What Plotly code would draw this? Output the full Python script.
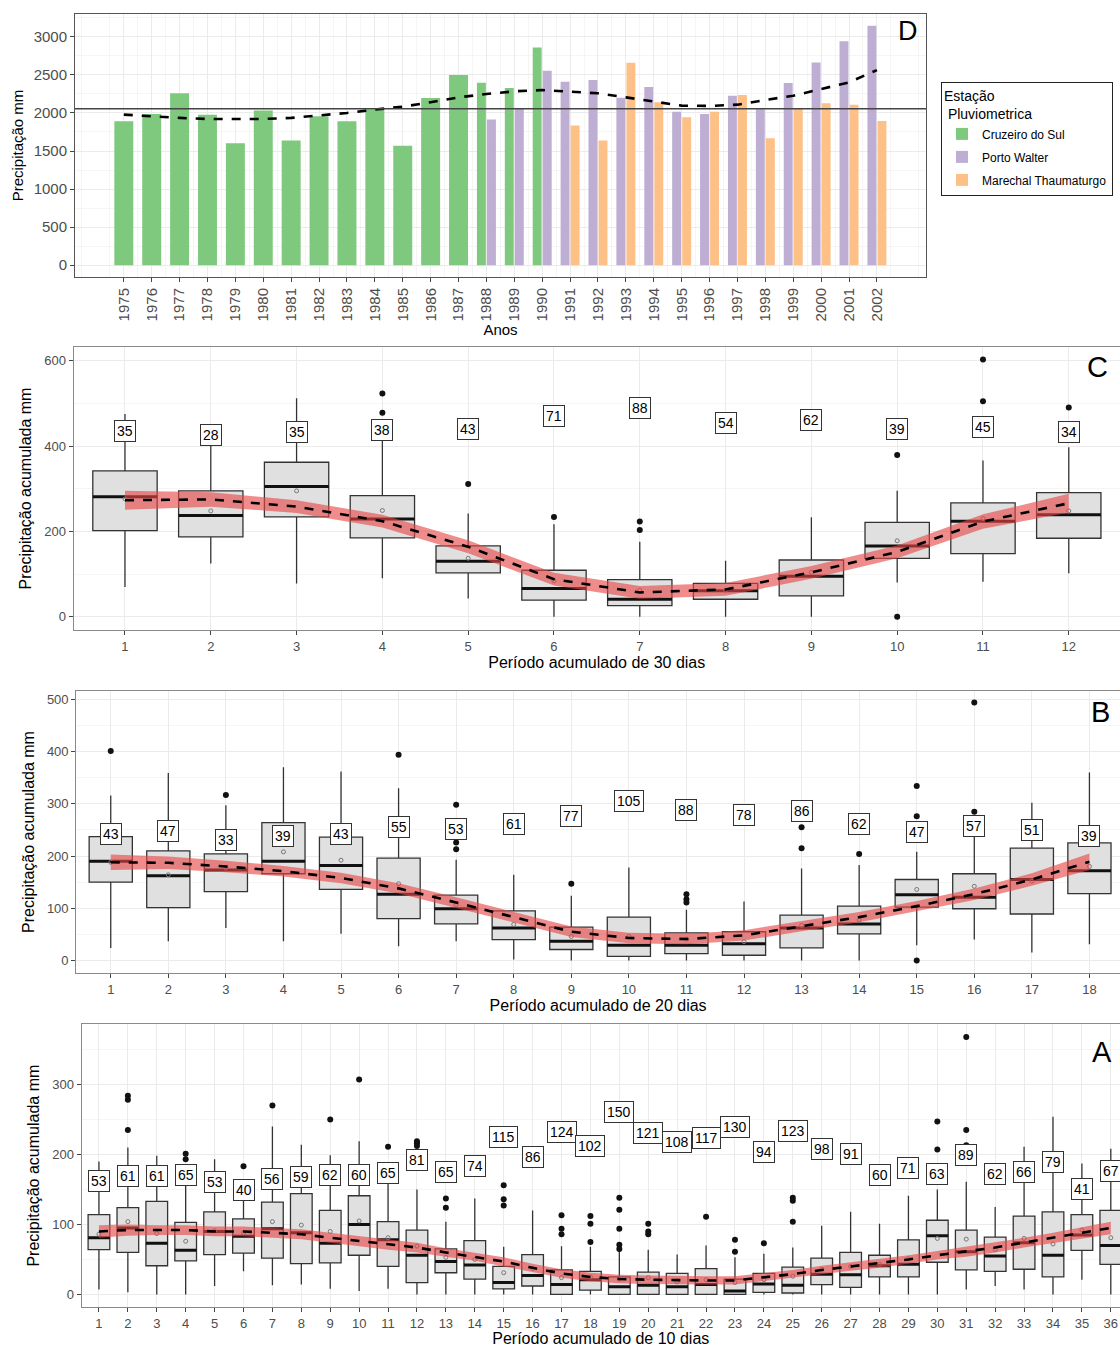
import plotly.graph_objects as go

FONT = "Liberation Sans, Arial, Helvetica, sans-serif"
W, H = 1120, 1347

# ---------------- Panel D : annual totals ----------------
years = list(range(1975, 2003))
station_names = ["Cruzeiro do Sul", "Porto Walter", "Marechal Thaumaturgo"]
station_colors = ["#7FC97F", "#BEAED4", "#FDC086"]
cz_years = list(range(1975, 1991))
cz_vals = [1891, 1987, 2258, 1978, 1603, 2031, 1638, 1956, 1891, 2045, 1568, 2197, 2498, 2397, 2328, 2860]
pw_years = list(range(1988, 2003))
pw_vals = [1915, 2053, 2555, 2410, 2432, 2201, 2341, 2017, 1987, 2227, 2048, 2393, 2664, 2943, 3144]
mt_years = list(range(1991, 2003))
mt_vals = [1834, 1638, 2660, 2140, 1943, 2017, 2236, 1668, 2053, 2127, 2109, 1895]
trend_d = [1978, 1952, 1935, 1921, 1917, 1921, 1935, 1965, 2000, 2044, 2083, 2140, 2205, 2249,
           2284, 2301, 2284, 2258, 2205, 2148, 2096, 2092, 2109, 2170, 2227, 2314, 2402, 2563]
mean_annual = 2055

# ---------------- Panel C : 30-day periods ----------------
c_cat = list(range(1, 13))
c_q1 = [202, 187, 234, 185, 103, 39, 26, 41, 49, 137, 148, 184]
c_med = [281, 237, 305, 229, 130, 66, 41, 61, 95, 166, 224, 239]
c_q3 = [342, 295, 362, 284, 166, 109, 87, 78, 133, 221, 267, 291]
c_lo = [70, 125, 78, 90, 43, 0, 0, 0, 0, 80, 82, 102]
c_hi = [475, 420, 512, 430, 242, 217, 176, 131, 233, 295, 366, 397]
c_mean = [276, 248, 295, 249, 137, 84, 62, 62, 104, 178, 230, 248]
c_n = [35, 28, 35, 38, 43, 71, 88, 54, 62, 39, 45, 34]
c_label_y = [436, 426, 434, 437, 441, 470, 488, 453, 461, 439, 444, 434]
c_trend = [273, 275, 258, 224, 164, 88, 57, 64, 104, 152, 223, 266]
c_se = [22, 17, 15, 15, 15, 15, 15, 15, 15, 15, 17, 22]
c_out_x = [4, 4, 5, 6, 7, 7, 10, 10, 11, 11, 12]
c_out_y = [523, 478, 311, 234, 223, 203, 379, 0, 603, 505, 490]

# ---------------- Panel B : 20-day periods ----------------
b_cat = list(range(1, 19))
b_q1 = [150, 101, 132, 166, 136, 80, 70, 40, 21, 8, 13, 10, 24, 51, 102, 99, 89, 128]
b_med = [190, 162, 173, 190, 182, 127, 99, 62, 37, 29, 29, 32, 62, 70, 126, 121, 155, 172]
b_q3 = [237, 210, 204, 264, 236, 196, 125, 95, 64, 83, 53, 55, 87, 104, 155, 166, 215, 225]
b_lo = [24, 37, 62, 37, 51, 27, 37, 2, 0, 0, 0, 0, 0, 0, 29, 40, 15, 31]
b_hi = [316, 359, 297, 370, 362, 330, 193, 164, 124, 178, 97, 113, 176, 183, 208, 262, 302, 360]
b_mean = [188, 164, 177, 208, 192, 147, 107, 69, 46, 46, 41, 36, 67, 78, 136, 142, 152, 180]
b_n = [43, 47, 33, 39, 43, 55, 53, 61, 77, 105, 88, 78, 86, 62, 47, 57, 51, 39]
b_label_y = [243, 247, 231, 239, 243, 255, 252, 262, 277, 306, 289, 278, 287, 262, 246, 257, 250, 239]
b_trend = [188, 187, 180, 171, 158, 138, 111, 83, 55, 43, 41, 48, 66, 83, 104, 127, 155, 189]
b_se = [15, 12, 11, 10, 10, 10, 10, 10, 10, 10, 10, 10, 10, 10, 10, 11, 12, 16]
b_out_x = [1, 3, 6, 7, 7, 7, 9, 11, 11, 11, 13, 13, 14, 15, 15, 15, 16, 16]
b_out_y = [401, 317, 394, 298, 226, 213, 147, 127, 117, 111, 255, 215, 204, 334, 276, 0, 285, 494]

# ---------------- Panel A : 10-day periods ----------------
a_cat = list(range(1, 37))
a_q1 = [64, 60, 41, 48, 57, 59, 52, 44, 45, 56, 40, 17, 31, 22, 8, 12, 0, 6, 0, 0, 0, 0, 0, 3,
        2, 14, 10, 25, 25, 46, 35, 33, 36, 25, 63, 43]
a_med = [81, 95, 73, 63, 90, 83, 94, 88, 73, 100, 78, 56, 47, 42, 17, 27, 14, 21, 11, 13, 11, 14, 5, 15,
         13, 29, 28, 41, 43, 84, 61, 55, 74, 56, 85, 70]
a_q3 = [114, 124, 133, 103, 118, 108, 132, 144, 120, 141, 104, 92, 65, 77, 40, 57, 35, 33, 25, 32, 30, 37, 22, 30,
        39, 52, 60, 56, 78, 106, 92, 82, 112, 118, 114, 120]
a_lo = [7, 3, 0, 0, 12, 33, 13, 14, 8, 5, 8, 0, 0, 0, 0, 0, 0, 0, 0, 0, 0, 0, 0, 0,
        0, 0, 0, 0, 0, 0, 7, 12, 7, 0, 21, 0]
a_hi = [190, 210, 198, 170, 193, 138, 240, 214, 199, 219, 160, 150, 104, 137, 68, 120, 69, 68, 64, 64, 57, 70, 53, 58,
        67, 98, 118, 101, 141, 150, 161, 125, 211, 254, 187, 208]
a_mean = [86, 104, 87, 76, 91, 88, 104, 99, 90, 105, 81, 69, 53, 50, 31, 37, 24, 25, 22, 24, 18, 21, 17, 21,
          26, 36, 40, 43, 51, 80, 79, 64, 80, 72, 92, 81]
a_n = [53, 61, 61, 65, 53, 40, 56, 59, 62, 60, 65, 81, 65, 74, 115, 86, 124, 102, 150, 121, 108, 117, 130, 94,
       123, 98, 91, 60, 71, 63, 89, 62, 66, 79, 41, 67]
a_label_y = [162, 169, 169, 171, 161, 149, 165, 168, 171, 170, 173, 192, 175, 183, 225, 196, 232, 212, 260, 231, 218, 224, 239, 203,
             234, 208, 201, 170, 180, 172, 199, 172, 175, 189, 150, 177]
a_trend = [90, 92, 92, 92, 90, 90, 88, 86, 81, 76, 71, 67, 60, 54, 47, 38, 30, 25, 22, 21, 20, 20, 20, 24,
           29, 35, 40, 44, 50, 56, 61, 67, 74, 81, 88, 95]
a_se = [9, 8, 7, 7, 7, 7, 7, 7, 7, 7, 7, 7, 6, 6, 6, 6, 6, 6, 6, 6, 6, 6, 6, 6,
        6, 6, 6, 6, 6, 6, 7, 7, 7, 7, 8, 9]
a_out_x = [2, 2, 2, 4, 4, 6, 7, 9, 10, 11, 12, 12, 12, 13, 13, 15, 15, 15, 17, 17, 17, 18, 18, 18,
           19, 19, 19, 19, 19, 20, 20, 20, 22, 23, 23, 24, 25, 25, 25, 30, 30, 31, 31, 31]
a_out_y = [284, 278, 235, 201, 193, 183, 270, 250, 307, 211, 216, 212, 219, 137, 124, 156, 136, 127, 113, 94, 86, 112, 101, 75,
           138, 121, 94, 71, 65, 101, 90, 86, 111, 78, 61, 73, 138, 134, 104, 247, 207, 368, 235, 213]

fig = go.Figure()

# ---- Panel D bars (dodged) ----
series = [(cz_years, cz_vals), (pw_years, pw_vals), (mt_years, mt_vals)]
present = {y: [i for i, (ys, _) in enumerate(series) if y in ys] for y in years}
DODGE, GAP = 0.72, 0.04
for i, (ys, vs) in enumerate(series):
    offs, wids = [], []
    for y in ys:
        st = present[y]
        n = len(st)
        k = st.index(i)
        slot = DODGE / n
        offs.append(-DODGE / 2 + k * slot + GAP / 2)
        wids.append(slot - GAP)
    fig.add_trace(go.Bar(x=ys, y=vs, offset=offs, width=wids, name=station_names[i],
                         legendgroup=station_names[i],
                         marker=dict(color=station_colors[i], line=dict(width=0)),
                         xaxis="x", yaxis="y", hoverinfo="skip"))
fig.add_trace(go.Scatter(x=years, y=trend_d, mode="lines", showlegend=False,
                         line=dict(color="black", width=2.6, dash="dash"), xaxis="x", yaxis="y"))
fig.add_shape(type="line", xref="x domain", x0=0, x1=1, yref="y", y0=mean_annual, y1=mean_annual,
              line=dict(color="#444444", width=1.3))


def box_panel(ax, cats, q1, med, q3, lo, hi, mean, n, label_y, trend, se, out_x, out_y, bw=0.75):
    xa, ya = "x" + ax, "y" + ax
    fig.add_trace(go.Box(x=cats, q1=q1, median=med, q3=q3, lowerfence=lo, upperfence=hi,
                         orientation="v", width=bw, whiskerwidth=0, fillcolor="#E0E0E0",
                         line=dict(color="#333333", width=1.3), boxpoints=False,
                         xaxis=xa, yaxis=ya, showlegend=False, hoverinfo="skip"))
    mx, my = [], []
    for c, m in zip(cats, med):
        mx += [c - bw / 2, c + bw / 2, None]
        my += [m, m, None]
    fig.add_trace(go.Scatter(x=mx, y=my, mode="lines", line=dict(color="#111111", width=3),
                             xaxis=xa, yaxis=ya, showlegend=False))
    fig.add_trace(go.Scatter(x=cats, y=mean, mode="markers",
                             marker=dict(symbol="circle-open", size=4, color="#777777", line=dict(width=1)),
                             xaxis=xa, yaxis=ya, showlegend=False))
    fig.add_trace(go.Scatter(x=out_x, y=out_y, mode="markers",
                             marker=dict(symbol="circle", size=6, color="#111111"),
                             xaxis=xa, yaxis=ya, showlegend=False))
    upper = [t + s for t, s in zip(trend, se)]
    lower = [t - s for t, s in zip(trend, se)]
    fig.add_trace(go.Scatter(x=cats + cats[::-1], y=upper + lower[::-1], fill="toself",
                             fillcolor="rgba(232,70,70,0.62)", mode="lines", line=dict(width=0),
                             xaxis=xa, yaxis=ya, showlegend=False))
    fig.add_trace(go.Scatter(x=cats, y=trend, mode="lines", line=dict(color="black", width=2.6, dash="dash"),
                             xaxis=xa, yaxis=ya, showlegend=False))
    for c, v, ly in zip(cats, n, label_y):
        fig.add_annotation(x=c, y=ly, xref=xa, yref=ya, text=str(v), showarrow=False,
                           bgcolor="white", bordercolor="#333333", borderwidth=1, borderpad=2,
                           font=dict(size=14, color="black", family=FONT))


box_panel("2", c_cat, c_q1, c_med, c_q3, c_lo, c_hi, c_mean, c_n, c_label_y, c_trend, c_se, c_out_x, c_out_y)
box_panel("3", b_cat, b_q1, b_med, b_q3, b_lo, b_hi, b_mean, b_n, b_label_y, b_trend, b_se, b_out_x, b_out_y)
box_panel("4", a_cat, a_q1, a_med, a_q3, a_lo, a_hi, a_mean, a_n, a_label_y, a_trend, a_se, a_out_x, a_out_y)

TICKFONT = dict(family=FONT, size=13, color="#4D4D4D")
GRID = "#EBEBEB"
MINOR = "#F5F5F5"


def px_x(p):
    return p / W


def px_y(p):
    return 1 - p / H


def xaxis_box(anchor, dom_left, rng, cats, title, standoff=3):
    return dict(anchor=anchor, domain=[px_x(dom_left), 1.0], range=rng, tickmode="array", tickvals=cats,
                ticktext=[str(c) for c in cats], ticks="outside", ticklen=4, tickcolor="#444444",
                tickfont=TICKFONT, showgrid=True, gridcolor=GRID, gridwidth=1, zeroline=False,
                showline=True, mirror=True, linecolor="#8A8A8A", linewidth=1, automargin=False,
                title=dict(text=title, font=dict(family=FONT, size=16, color="black"), standoff=standoff))


def yaxis_box(anchor, top, bottom, rng, dtick, title, standoff=8):
    return dict(anchor=anchor, domain=[px_y(bottom), px_y(top)], range=rng, tick0=0, dtick=dtick, ticks="outside",
                ticklen=4, tickcolor="#444444", tickfont=TICKFONT, showgrid=True, gridcolor=GRID,
                gridwidth=1, zeroline=False, showline=True, mirror=False, linecolor="#8A8A8A", linewidth=1,
                minor=dict(dtick=dtick / 2, showgrid=True, gridcolor=MINOR, gridwidth=1),
                automargin=False,
                title=dict(text=title, font=dict(family=FONT, size=16, color="black"), standoff=standoff))


fig.update_layout(
    width=W, height=H, margin=dict(l=0, r=0, t=0, b=0),
    paper_bgcolor="white", plot_bgcolor="white", hovermode=False,
    barmode="overlay", font=dict(family=FONT),
    xaxis=dict(anchor="y", domain=[px_x(75), px_x(926)], range=[1973.25, 2003.76], tickmode="array",
               tickvals=years, ticktext=[str(y) for y in years], tickangle=-90,
               ticks="outside", ticklen=4, tickcolor="#444444",
               tickfont=dict(family=FONT, size=15, color="#4D4D4D"),
               showgrid=True, gridcolor=GRID, zeroline=False, showline=True, mirror=True,
               linecolor="#555555", linewidth=1,
               minor=dict(tick0=1974.5, dtick=1, showgrid=True, gridcolor=MINOR),
               automargin=False,
               title=dict(text="Anos", font=dict(family=FONT, size=15, color="black"), standoff=3)),
    yaxis=dict(anchor="x", domain=[px_y(277), px_y(14)], range=[-155, 3300], tick0=0, dtick=500,
               ticks="outside", ticklen=4, tickcolor="#444444",
               tickfont=dict(family=FONT, size=15, color="#4D4D4D"),
               showgrid=True, gridcolor=GRID, zeroline=False, showline=True, mirror=True,
               linecolor="#555555", linewidth=1,
               minor=dict(dtick=250, showgrid=True, gridcolor=MINOR),
               automargin=False,
               title=dict(text="Precipitação mm", font=dict(family=FONT, size=15, color="black"), standoff=6)),
    xaxis2=xaxis_box("y2", 73.5, [0.4, 12.597], c_cat, "Período acumulado de 30 dias"),
    yaxis2=yaxis_box("x2", 347, 630, [-31, 632], 200, "Precipitação acumulada mm"),
    xaxis3=xaxis_box("y3", 76.2, [0.4, 18.531], b_cat, "Período acumulado de 20 dias"),
    yaxis3=yaxis_box("x3", 690.7, 973.3, [-24.6, 516.6], 100, "Precipitação acumulada mm"),
    xaxis4=xaxis_box("y4", 81.6, [0.4, 36.318], a_cat, "Período acumulado de 10 dias", standoff=2),
    yaxis4=yaxis_box("x4", 1024, 1307.3, [-18.4, 386.4], 100, "Precipitação acumulada mm"),
    legend=dict(x=px_x(941), y=px_y(82), xanchor="left", yanchor="top",
                bordercolor="#222222", borderwidth=1, bgcolor="white",
                font=dict(family=FONT, size=12, color="black"),
                title=dict(text="Estação<br> Pluviometrica", font=dict(family=FONT, size=14, color="black")),
                itemsizing="constant", tracegroupgap=4),
)

for letter, lx, ly, sz in [("D", 908, 31, 27), ("C", 1097, 367, 29), ("B", 1100, 712, 29), ("A", 1102, 1052, 29)]:
    fig.add_annotation(x=px_x(lx), y=px_y(ly), xref="paper", yref="paper", text=letter, showarrow=False,
                       xanchor="center", yanchor="middle", font=dict(family=FONT, size=sz, color="black"))

fig.write_html("out.html")
